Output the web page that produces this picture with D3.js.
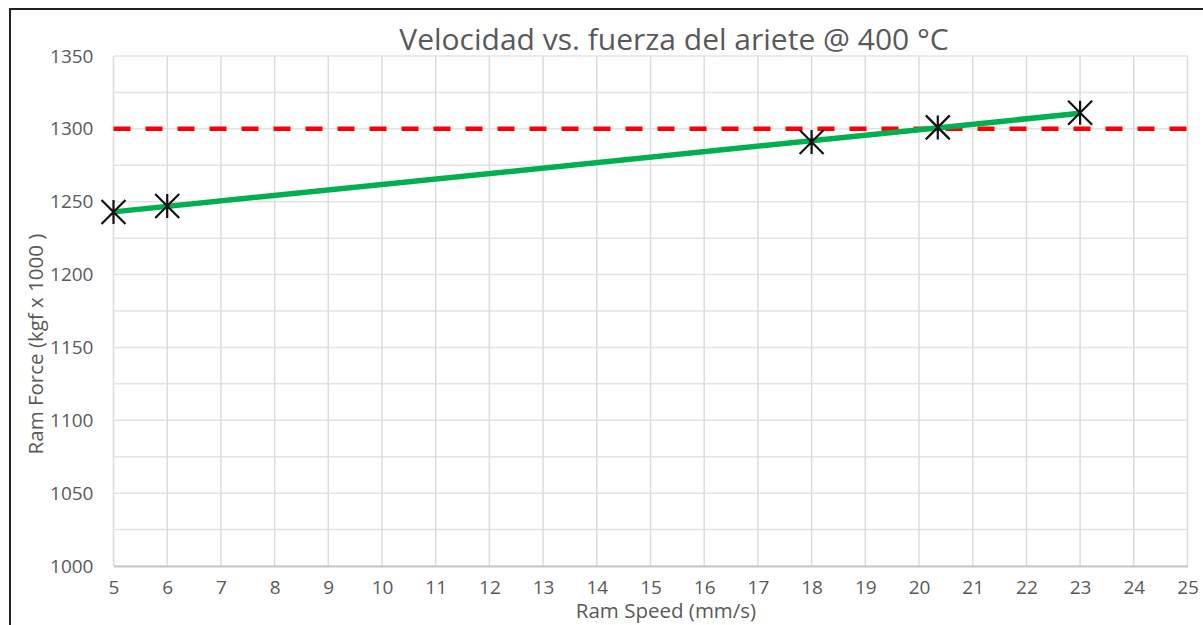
<!DOCTYPE html>
<html>
<head>
<meta charset="utf-8">
<script src="https://cdn.jsdelivr.net/npm/d3@7"></script>
<style>
  body { margin: 0; background: #fff; }
  svg { display: block; font-family: "Open Sans", sans-serif; }
</style>
</head>
<body>
<div id="chart"></div>
<script>
// data
const speeds = [5, 6, 18, 20.35, 23];
const forces = [1243, 1247, 1291, 1301, 1311];
const limitForce = 1300;
const xTicks = d3.range(5, 26, 1);
const yTicks = [1000, 1050, 1100, 1150, 1200, 1250, 1300, 1350];
const yMinor = d3.range(1000, 1351, 25);

const W = 1203, H = 625;
const margin = { top: 56, right: 15.5, bottom: 59, left: 113.5 };
const width = W - margin.left - margin.right;
const height = H - margin.top - margin.bottom;

const svg = d3.select("#chart").append("svg")
    .attr("width", W)
    .attr("height", H);

// outer frame (only top and left visible in the crop)
svg.append("path")
    .attr("d", `M10,${H + 5} L10,9 L${W + 5},9`)
    .attr("fill", "none")
    .attr("stroke", "#222")
    .attr("stroke-width", 2);

const g = svg.append("g")
    .attr("transform", `translate(${margin.left},${margin.top})`);

const x = d3.scaleLinear().domain([5, 25]).range([0, width]);
const y = d3.scaleLinear().domain([1000, 1350]).range([height, 0]);

// grid
g.append("g").selectAll("line")
    .data(yMinor)
    .join("line")
    .attr("x1", 0).attr("x2", width)
    .attr("y1", d => y(d)).attr("y2", d => y(d))
    .attr("stroke", "#e3e3e3")
    .attr("stroke-width", 1.5);

g.append("g").selectAll("line")
    .data(xTicks)
    .join("line")
    .attr("x1", d => x(d)).attr("x2", d => x(d))
    .attr("y1", 0).attr("y2", height)
    .attr("stroke", "#dcdcdc")
    .attr("stroke-width", 1.5);

// axes
const xAxis = g.append("g")
    .attr("transform", `translate(0,${height})`)
    .call(d3.axisBottom(x).tickValues(xTicks).tickSize(0).tickPadding(15).tickFormat(d3.format("d")));
xAxis.select(".domain").attr("stroke", "#c8c8c8").attr("stroke-width", 2);

const yAxis = g.append("g")
    .call(d3.axisLeft(y).tickValues(yTicks).tickSize(0).tickPadding(20).tickFormat(d3.format("d")));
yAxis.select(".domain").remove();

svg.selectAll(".tick text")
    .attr("fill", "#595959")
    .style("font-size", "19px")
    .style("font-family", "'Open Sans', sans-serif");

// limit line
g.append("line")
    .attr("x1", x(5)).attr("x2", x(25))
    .attr("y1", y(limitForce)).attr("y2", y(limitForce))
    .attr("stroke", "#ff0000")
    .attr("stroke-width", 4.5)
    .attr("stroke-dasharray", "17,15");

// linear trend through the points
const xm = d3.mean(speeds), ym = d3.mean(forces);
const slope = d3.sum(speeds, (s, i) => (s - xm) * (forces[i] - ym)) / d3.sum(speeds, s => (s - xm) ** 2);
const icpt = ym - slope * xm;
const xExt = d3.extent(speeds);

g.append("line")
    .attr("x1", x(xExt[0])).attr("y1", y(icpt + slope * xExt[0]))
    .attr("x2", x(xExt[1])).attr("y2", y(icpt + slope * xExt[1]))
    .attr("stroke", "#00b050")
    .attr("stroke-width", 5.5)
    .attr("stroke-linecap", "butt");

// star markers
const r = 12;
const star = `M${-r},${-r}L${r},${r}M${-r},${r}L${r},${-r}M0,${-r}L0,${r}`;
g.append("g").selectAll("path")
    .data(speeds.map((s, i) => [s, forces[i]]))
    .join("path")
    .attr("transform", d => `translate(${x(d[0])},${y(d[1])})`)
    .attr("d", star)
    .attr("fill", "none")
    .attr("stroke", "#111")
    .attr("stroke-width", 2.2);

// titles
svg.append("text")
    .attr("x", 674).attr("y", 50)
    .attr("text-anchor", "middle")
    .attr("fill", "#595959")
    .style("font-size", "30px")
    .text("Velocidad vs. fuerza del ariete @ 400 °C");

svg.append("text")
    .attr("x", 666).attr("y", 618)
    .attr("text-anchor", "middle")
    .attr("fill", "#595959")
    .style("font-size", "20.5px")
    .text("Ram Speed (mm/s)");

svg.append("text")
    .attr("transform", "translate(43,344) rotate(-90)")
    .attr("text-anchor", "middle")
    .attr("fill", "#595959")
    .style("font-size", "20.5px")
    .text("Ram Force (kgf x 1000 )");
</script>
</body>
</html>
